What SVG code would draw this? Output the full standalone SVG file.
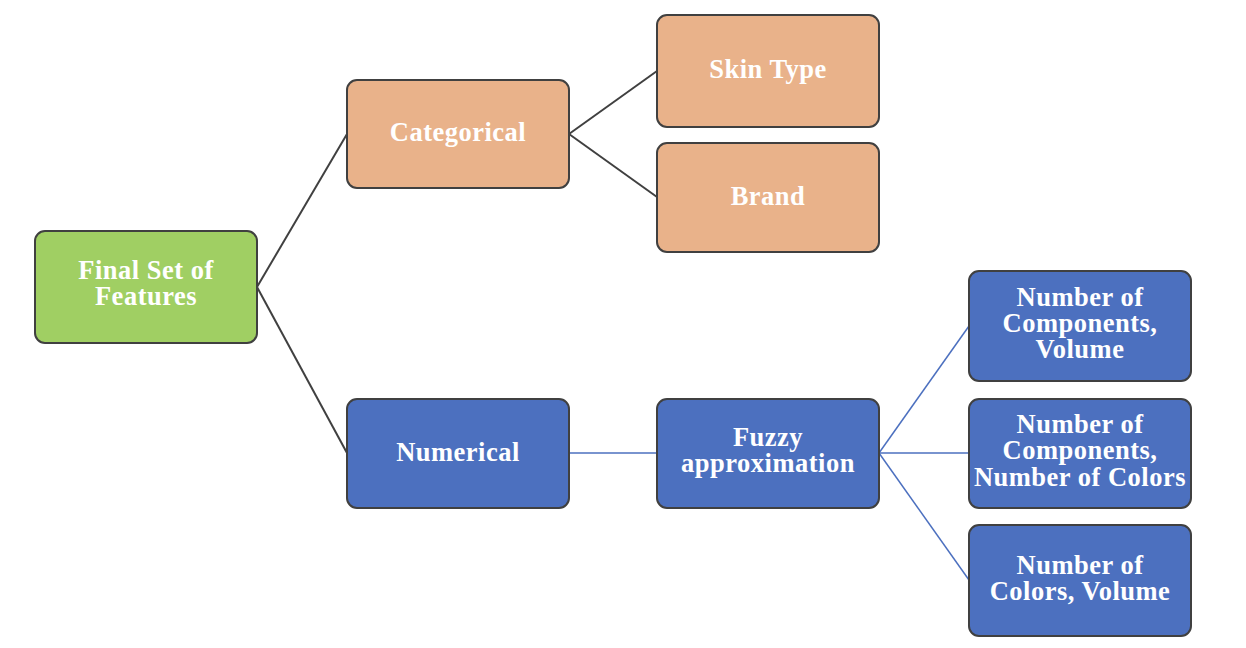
<svg xmlns="http://www.w3.org/2000/svg" width="1246" height="648" viewBox="0 0 1246 648">
<style>
.box{stroke:#404040;stroke-width:2}
.g{fill:#A0CF63}.o{fill:#E9B28A}.b{fill:#4C70BF}
text{font-family:"Liberation Serif","Times New Roman",serif;font-weight:bold;font-size:26.5px;letter-spacing:0.5px;fill:#fff;text-anchor:middle}
.c1{stroke:#404040;stroke-width:2;fill:none}
.c2{stroke:#4C70BF;stroke-width:1.5;fill:none}
</style>
<rect width="1246" height="648" fill="#fff"/>
<g id="connectors">
<line class="c1" x1="257" y1="287" x2="347" y2="134"/>
<line class="c1" x1="257" y1="287" x2="347" y2="453"/>
<line class="c1" x1="569" y1="134" x2="657" y2="71"/>
<line class="c1" x1="569" y1="134" x2="657" y2="197"/>
<line class="c2" x1="569" y1="453" x2="657" y2="453"/>
<line class="c2" x1="879" y1="453" x2="969" y2="326"/>
<line class="c2" x1="879" y1="453" x2="969" y2="453"/>
<line class="c2" x1="879" y1="453" x2="969" y2="580"/>
</g>
<g id="final"><rect class="box g" x="35" y="231" width="222" height="112" rx="10"/><text x="146" y="279">Final Set of</text><text x="146" y="305">Features</text></g>
<g id="categorical"><rect class="box o" x="347" y="80" width="222" height="108" rx="10"/><text x="458" y="141">Categorical</text></g>
<g id="skintype"><rect class="box o" x="657" y="15" width="222" height="112" rx="10"/><text x="768" y="78">Skin Type</text></g>
<g id="brand"><rect class="box o" x="657" y="143" width="222" height="109" rx="10"/><text x="768" y="205">Brand</text></g>
<g id="numerical"><rect class="box b" x="347" y="399" width="222" height="109" rx="10"/><text x="458" y="461">Numerical</text></g>
<g id="fuzzy"><rect class="box b" x="657" y="399" width="222" height="109" rx="10"/><text x="768" y="446">Fuzzy</text><text x="768" y="472">approximation</text></g>
<g id="n1"><rect class="box b" x="969" y="271" width="222" height="110" rx="10"/><text x="1080" y="306">Number of</text><text x="1080" y="332">Components,</text><text x="1080" y="358">Volume</text></g>
<g id="n2"><rect class="box b" x="969" y="399" width="222" height="109" rx="10"/><text x="1080" y="433">Number of</text><text x="1080" y="459">Components,</text><text x="1080" y="486">Number of Colors</text></g>
<g id="n3"><rect class="box b" x="969" y="525" width="222" height="111" rx="10"/><text x="1080" y="574">Number of</text><text x="1080" y="600">Colors, Volume</text></g>
</svg>
